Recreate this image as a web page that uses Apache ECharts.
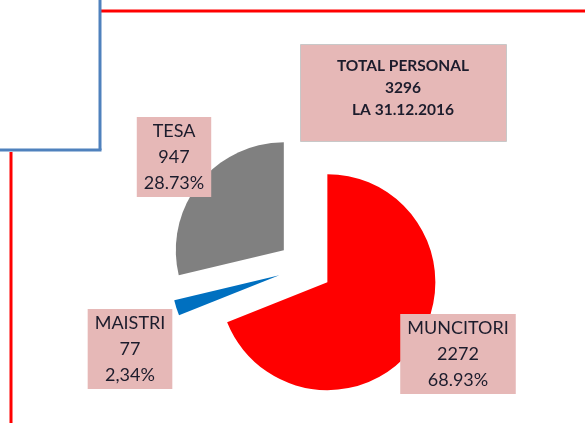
<!DOCTYPE html>
<html>
<head>
<meta charset="utf-8">
<script src="https://cdn.jsdelivr.net/npm/echarts@6/dist/echarts.min.js"></script>
<style>
  html, body { margin: 0; padding: 0; background: #ffffff; }
  #chart { width: 585px; height: 423px; }
</style>
</head>
<body>
<div id="chart"></div>
<script>
// ---- data ----
const categories = ['MUNCITORI', 'MAISTRI', 'TESA'];
const values = [2272, 77, 947];
const percentLabels = ['68.93%', '2,34%', '28.73%'];
const sliceColors = ['#ff0000', '#0070c0', '#808080'];
const totalTitle = 'TOTAL PERSONAL';
const totalDate = 'LA 31.12.2016';

// ---- layout (not data) ----
const labelCenters = [[458, 354], [130, 349], [174, 157]];
const EXPLODE = 27;
const FONT = 'Lato, "Open Sans", sans-serif';

const total = values.reduce((a, b) => a + b, 0);

// offset each exploded slice applies to its label (label follows the sector)
const selOffsets = (() => {
  let acc = 0;
  return values.map(v => {
    const mid = (acc + v / 2) / total * Math.PI * 2;
    acc += v;
    return [EXPLODE * Math.sin(mid), -EXPLODE * Math.cos(mid)];
  });
})();

const chart = echarts.init(document.getElementById('chart'), null, { renderer: 'canvas' });

const option = {
  animation: false,
  backgroundColor: '#ffffff',
  series: [{
    type: 'pie',
    center: [305, 267],
    radius: 108,
    startAngle: 90,
    clockwise: true,
    selectedMode: 'multiple',
    selectedOffset: EXPLODE,
    avoidLabelOverlap: false,
    emphasis: { disabled: true },
    itemStyle: { borderWidth: 0 },
    data: categories.map((c, i) => ({
      name: c,
      value: values[i],
      selected: true,
      itemStyle: { color: sliceColors[i] }
    })),
    label: {
      show: true,
      position: 'outside',
      formatter: (p) => p.name + '\n' + p.value + '\n' + percentLabels[p.dataIndex],
      color: '#1c1c2c',
      fontFamily: FONT,
      fontSize: 18,
      lineHeight: 26,
      backgroundColor: '#e6b8b7',
      padding: [1, 7, 1, 7]
    },
    labelLine: { show: false },
    labelLayout: (params) => {
      const i = params.dataIndex;
      const c = labelCenters[i];
      const r = params.labelRect;
      const s = selOffsets[i];
      let anchorX;
      if (params.align === 'left') anchorX = r.x;
      else if (params.align === 'right') anchorX = r.x + r.width;
      else anchorX = r.x + r.width / 2;
      return {
        align: 'center',
        dx: c[0] - anchorX - s[0],
        dy: c[1] - (r.y + r.height / 2) - s[1]
      };
    }
  }],
  graphic: [
    // frame lines
    { type: 'line', shape: { x1: 100, y1: 11, x2: 585, y2: 11 }, style: { stroke: '#ff0000', lineWidth: 3 } },
    { type: 'line', shape: { x1: 100, y1: 0, x2: 100, y2: 150 }, style: { stroke: '#4f81bd', lineWidth: 3 } },
    { type: 'line', shape: { x1: 0, y1: 150, x2: 101.5, y2: 150 }, style: { stroke: '#4f81bd', lineWidth: 3 } },
    { type: 'line', shape: { x1: 11, y1: 152, x2: 11, y2: 423 }, style: { stroke: '#ff0000', lineWidth: 3 } },
    // total box
    { type: 'rect', shape: { x: 300.5, y: 44.5, width: 206, height: 97 },
      style: { fill: '#e6b8b7', stroke: '#c8c8c8', lineWidth: 1 } },
    { type: 'text', x: 403, y: 55,
      style: { text: totalTitle + '\n' + total + '\n' + totalDate, fill: '#1c1c2c',
        font: 'bold 15.5px ' + FONT, lineHeight: 22, align: 'center', verticalAlign: 'top' } }
  ]
};
chart.setOption(option);
</script>
</body>
</html>
